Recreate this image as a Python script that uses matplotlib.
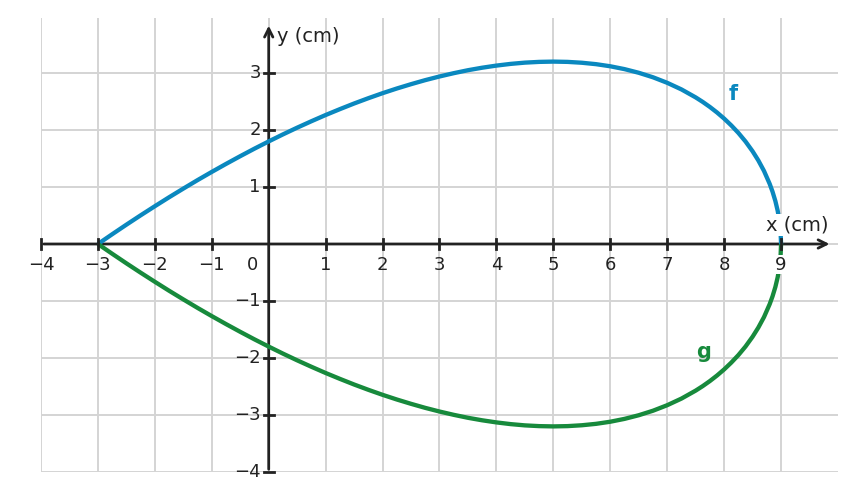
import matplotlib
matplotlib.use("Agg")
import matplotlib.pyplot as plt

# curve samples
x_vals = [-3, -2.75, -2.5, -2.25, -2, -1.75, -1.5, -1.25, -1, -0.75, -0.5, -0.25,
          0, 0.25, 0.5, 0.75, 1, 1.25, 1.5, 1.75, 2, 2.25, 2.5, 2.75, 3, 3.25, 3.5, 3.75,
          4, 4.25, 4.5, 4.75, 5, 5.25, 5.5, 5.75, 6, 6.25, 6.5, 6.75, 7, 7.25, 7.5, 7.625,
          7.75, 7.875, 8, 8.125, 8.25, 8.375, 8.5, 8.6, 8.7, 8.8, 8.85, 8.9, 8.94, 8.97,
          8.99, 9]
f_vals = [0, 0.171, 0.339, 0.503, 0.663, 0.820, 0.972, 1.121, 1.265, 1.405, 1.541, 1.673,
          1.800, 1.923, 2.041, 2.154, 2.263, 2.366, 2.465, 2.558, 2.646, 2.728, 2.804, 2.875,
          2.939, 2.997, 3.049, 3.093, 3.130, 3.160, 3.182, 3.195, 3.200, 3.195, 3.180, 3.155,
          3.118, 3.068, 3.004, 2.925, 2.828, 2.712, 2.572, 2.492, 2.404, 2.307, 2.200, 2.081,
          1.949, 1.799, 1.626, 1.467, 1.282, 1.055, 0.918, 0.753, 0.585, 0.415, 0.240, 0]
g_vals = [0, -0.171, -0.339, -0.503, -0.663, -0.820, -0.972, -1.121, -1.265, -1.405, -1.541,
          -1.673, -1.800, -1.923, -2.041, -2.154, -2.263, -2.366, -2.465, -2.558, -2.646,
          -2.728, -2.804, -2.875, -2.939, -2.997, -3.049, -3.093, -3.130, -3.160, -3.182,
          -3.195, -3.200, -3.195, -3.180, -3.155, -3.118, -3.068, -3.004, -2.925, -2.828,
          -2.712, -2.572, -2.492, -2.404, -2.307, -2.200, -2.081, -1.949, -1.799, -1.626,
          -1.467, -1.282, -1.055, -0.918, -0.753, -0.585, -0.415, -0.240, 0]

x_ticks = [-4, -3, -2, -1, 1, 2, 3, 4, 5, 6, 7, 8, 9]
y_ticks = [-4, -3, -2, -1, 1, 2, 3]
x_grid = list(range(-4, 10))
y_grid = list(range(-4, 4))

blue = "#0a88bf"
green = "#178a3c"
axc = "#222222"

fig = plt.figure(figsize=(8.56, 5.01), dpi=100)
ax = fig.add_axes([41/856, 29/501, 797/856, 454/501])
ax.set_xlim(-4, 10)
ax.set_ylim(-4, 3.965)
for s in ax.spines.values():
    s.set_visible(False)
ax.set_xticks(x_grid)
ax.set_yticks(y_grid)
ax.tick_params(length=0, labelbottom=False, labelleft=False)
ax.grid(True, color="#d4d4d4", lw=1.4, zorder=0)
ax.set_axisbelow(True)

ax.plot(x_vals, f_vals, color=blue, lw=3.1, zorder=3, solid_capstyle="butt",
        solid_joinstyle="round")
ax.plot(x_vals, g_vals, color=green, lw=3.1, zorder=3, solid_capstyle="butt",
        solid_joinstyle="round")

# axes with arrows
ax.annotate("", xy=(9.9, 0), xytext=(-4, 0),
            arrowprops=dict(arrowstyle="->,head_length=0.6,head_width=0.3", color=axc, lw=2.0),
            zorder=2, annotation_clip=False)
ax.annotate("", xy=(0, 3.88), xytext=(0, -4),
            arrowprops=dict(arrowstyle="->,head_length=0.6,head_width=0.3", color=axc, lw=2.0),
            zorder=2, annotation_clip=False)

tk = 0.09
for t in x_ticks:
    ax.plot([t, t], [-tk, tk], color=axc, lw=2.0, zorder=4, clip_on=False)
    bb = dict(facecolor="white", edgecolor="none", pad=0.5) if t == 9 else None
    ax.text(t, -0.36, "−" + str(-t) if t < 0 else str(t), ha="center", va="center",
            fontsize=13, color=axc, zorder=5, bbox=bb)
ax.text(-0.29, -0.36, "0", ha="center", va="center", fontsize=13, color=axc, zorder=5)
for t in y_ticks:
    ax.plot([-tk, tk], [t, t], color=axc, lw=2.0, zorder=4, clip_on=False)
    ax.text(-0.14, t, "−" + str(-t) if t < 0 else str(t), ha="right", va="center",
            fontsize=13, color=axc, zorder=5)

ax.text(9.83, 0.33, "x (cm)", ha="right", va="center", fontsize=14, color=axc, zorder=5,
        bbox=dict(facecolor="white", edgecolor="none", pad=1.0))
ax.text(0.15, 3.64, "y (cm)", ha="left", va="center", fontsize=14, color=axc, zorder=5)

ax.text(8.16, 2.63, "f", ha="center", va="center", fontsize=15, fontweight="bold", color=blue)
ax.text(7.63, -1.89, "g", ha="center", va="center", fontsize=15, fontweight="bold", color=green)

fig.savefig("out.png", dpi=100)
